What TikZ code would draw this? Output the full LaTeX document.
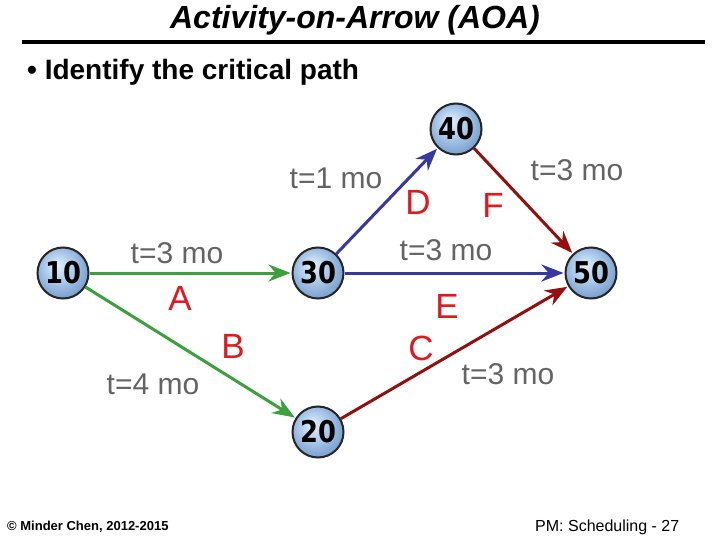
\documentclass[tikz,border=0pt]{standalone}
\usepackage{fontspec}
\setmainfont{Liberation Sans}
\newfontfamily\numfont{DejaVu Sans}
\usetikzlibrary{arrows.meta,shadings}
\definecolor{grnA}{RGB}{60,160,60}
\definecolor{bluD}{RGB}{55,55,165}
\definecolor{redF}{RGB}{150,15,15}
\definecolor{lblred}{RGB}{225,25,30}
\definecolor{lblgray}{RGB}{100,100,100}
\definecolor{nodein}{RGB}{230,240,252}
\definecolor{nodemid}{RGB}{180,208,238}
\definecolor{nodeout}{RGB}{115,155,205}
\pgfdeclareradialshading{evtshade}{\pgfpoint{-6bp}{8bp}}{color(0bp)=(nodein); color(12bp)=(nodemid); color(30bp)=(nodeout); color(50bp)=(nodeout)}
\newcommand{\evtnum}[1]{\scalebox{0.86}[1]{#1}}
\tikzset{
  x=1pt, y=-1pt,
  evt/.style={circle, draw=black!85, line width=2pt, minimum size=51pt, inner sep=0pt,
    shading=evtshade, font=\numfont\bfseries\fontsize{30}{30}\selectfont},
  act/.style={line width=3pt, -{Stealth[length=22pt,width=17pt]}, shorten >=1pt},
  tlbl/.style={text=lblgray, font=\fontsize{30}{30}\selectfont, inner sep=0pt},
  llbl/.style={text=lblred, font=\fontsize{35}{35}\selectfont, inner sep=0pt},
}
\begin{document}
\begin{tikzpicture}
\useasboundingbox (0,0) rectangle (720,540);
\fill[white] (0,0) rectangle (720,540);
% title
\node[inner sep=0pt, font=\bfseries\itshape\fontsize{32}{32}\selectfont] (title) at (355,20) {Activity-on-Arrow (AOA)};
\draw[line width=3.5pt] (22,42) -- (705,42);
\node[anchor=west, inner sep=0pt, font=\bfseries\fontsize{28}{28}\selectfont] (bul) at (27,72) {\textbullet\ Identify the critical path};
% nodes
\node[evt] (n10) at (63,273) {\evtnum{10}};
\node[evt] (n30) at (318,273) {\evtnum{30}};
\node[evt] (n40) at (456,129) {\evtnum{40}};
\node[evt] (n50) at (591,273) {\evtnum{50}};
\node[evt] (n20) at (318,432) {\evtnum{20}};
% arrows
\draw[act, grnA] (n10) -- (n30);
\draw[act, grnA] (n10) -- (n20);
\draw[act, bluD] (n30) -- (n40);
\draw[act, bluD] (n30) -- (n50);
\draw[act, redF] (n40) -- (n50);
\draw[act, redF] (n20) -- (n50);
% labels
\node[tlbl] (tA) at (177,253) {t=3 mo};
\node[llbl] (lA) at (180,298) {A};
\node[llbl] (lB) at (233,346) {B};
\node[tlbl] (tB) at (153,384) {t=4 mo};
\node[tlbl] (tD) at (336,178) {t=1 mo};
\node[llbl] (lD) at (418,202) {D};
\node[llbl] (lF) at (493,205) {F};
\node[tlbl] (tF) at (577,170) {t=3 mo};
\node[tlbl] (tE) at (446,250) {t=3 mo};
\node[llbl] (lE) at (447,306) {E};
\node[llbl] (lC) at (421,348) {C};
\node[tlbl] (tC) at (508,374) {t=3 mo};
% footer
\node[anchor=west, inner sep=0pt, font=\bfseries\fontsize{13}{13}\selectfont] (foot1) at (7,527) {\textcopyright\ Minder Chen, 2012-2015};
\node[anchor=west, inner sep=0pt, font=\fontsize{16}{16}\selectfont] (foot2) at (535,527) {PM: Scheduling - 27};
\end{tikzpicture}
\end{document}
